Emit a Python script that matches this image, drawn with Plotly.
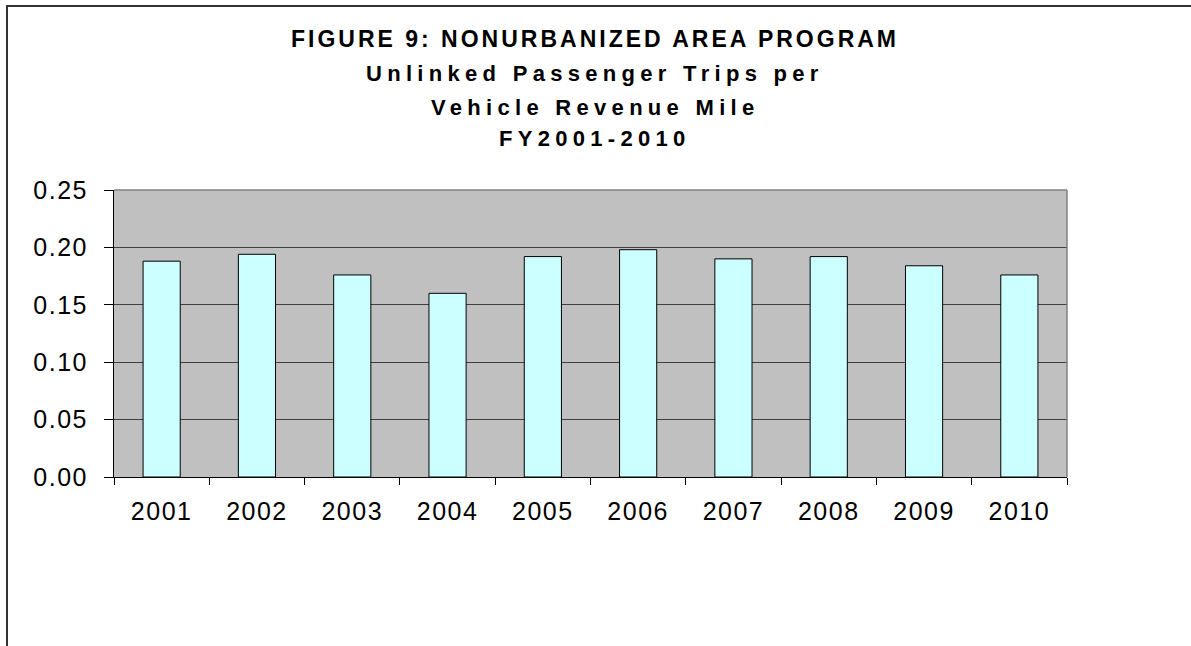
import plotly.graph_objects as go

years = ["2001", "2002", "2003", "2004", "2005", "2006", "2007", "2008", "2009", "2010"]
trips_per_vrm = [0.188, 0.194, 0.176, 0.160, 0.192, 0.198, 0.190, 0.192, 0.184, 0.176]
y_ticks = [0.00, 0.05, 0.10, 0.15, 0.20, 0.25]
y_tick_labels = ["0.00", "0.05", "0.10", "0.15", "0.20", "0.25"]
title_lines = [
    "FIGURE 9: NONURBANIZED AREA PROGRAM",
    "Unlinked Passenger Trips per",
    "Vehicle Revenue Mile",
    "FY2001-2010",
]

W, H = 1191, 646
L, R, T, B = 114, 124, 190, 169
pw, ph = W - L - R, H - T - B

def px_x(p):
    return (p - L) / pw

def px_y(p):
    return (H - B - p) / ph

def spaced(text, px):
    return '<span style="letter-spacing:%.1fpx">%s</span>' % (px, text)

fig = go.Figure(go.Bar(
    x=years, y=trips_per_vrm,
    marker=dict(color="#CCFFFF", line=dict(color="#000000", width=1)),
))

font_family = "Liberation Sans, Arial, sans-serif"

annotations = []
centers = [39, 73, 108, 139]
sizes = [23, 22, 22, 22]
spacings = [3.0, 5.3, 5.3, 5.3]
for line, cy, sz, sp in zip(title_lines, centers, sizes, spacings):
    annotations.append(dict(
        text="<b>" + spaced(line, sp) + "</b>", x=px_x(595), y=px_y(cy),
        xref="paper", yref="paper",
        xanchor="center", yanchor="middle", showarrow=False,
        font=dict(family=font_family, size=sz, color="#000000"),
    ))

shapes = [
    dict(type="line", xref="paper", yref="paper", x0=0, x1=1, y0=1, y1=1,
         line=dict(color="#808080", width=1.5)),
    dict(type="line", xref="paper", yref="paper", x0=1, x1=1, y0=0, y1=1,
         line=dict(color="#808080", width=1.5)),
    dict(type="line", xref="paper", yref="paper", x0=px_x(6), x1=px_x(W + 5),
         y0=px_y(6), y1=px_y(6), line=dict(color="#333333", width=2)),
    dict(type="line", xref="paper", yref="paper", x0=px_x(7), x1=px_x(7),
         y0=px_y(6), y1=px_y(H + 5), line=dict(color="#333333", width=2)),
]

fig.update_layout(
    width=W, height=H,
    margin=dict(l=L, r=R, t=T, b=B, pad=0),
    paper_bgcolor="#FFFFFF",
    plot_bgcolor="#C0C0C0",
    bargap=0.61,
    showlegend=False,
    annotations=annotations,
    shapes=shapes,
    font=dict(family=font_family, color="#000000"),
)

fig.update_xaxes(
    type="category",
    tickvals=years, ticktext=[spaced(y, 1.5) for y in years],
    showgrid=False,
    showline=True, linecolor="#000000", linewidth=1,
    ticks="outside", ticklen=7, tickcolor="#000000", tickwidth=1,
    tickson="boundaries",
    tickfont=dict(family=font_family, size=25, color="#000000"),
    ticklabelstandoff=12,
    fixedrange=True,
)

fig.update_yaxes(
    range=[0, 0.25],
    tickvals=y_ticks, ticktext=[spaced(t, 1.5) for t in y_tick_labels],
    showgrid=True, gridcolor="#404040", gridwidth=1,
    zeroline=False,
    showline=True, linecolor="#000000", linewidth=1,
    ticks="outside", ticklen=9, tickcolor="#000000", tickwidth=1,
    tickfont=dict(family=font_family, size=25, color="#000000"),
    ticklabelstandoff=11,
    fixedrange=True,
)

fig.write_html("out.html", config={"displayModeBar": False},
               post_script="document.body.style.margin='0';document.body.style.overflow='hidden';")
